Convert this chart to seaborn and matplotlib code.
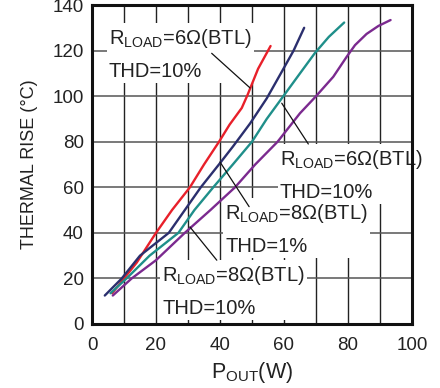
import matplotlib
matplotlib.use("Agg")
import matplotlib.pyplot as plt
import seaborn as sns
import pandas as pd

# Data
red_x = [6.3, 10, 14, 20, 25, 30.6, 35, 39.7, 43, 46.8, 48.6, 51.9, 55.8]
red_y = [13.5, 20, 27, 40, 50, 60, 70, 80, 87.5, 94.8, 100.5, 112, 122]

navy_x = [4.0, 9.3, 15, 24, 29, 34, 40, 44.1, 49.4, 54.6, 59.3, 63, 66.3]
navy_y = [12.5, 20, 30, 40, 50, 60, 70.6, 78, 88, 99, 110.7, 120, 130]

teal_x = [5.8, 10.8, 18, 27, 32, 37.9, 44, 50, 54.6, 59.8, 65, 69.7, 74, 78.8]
teal_y = [13.5, 20, 30, 40, 50, 60, 70, 80, 90, 100, 110, 119, 126, 132.3]

purple_x = [6.5, 12.4, 20, 29, 37, 44.7, 51, 58, 65, 69.7, 75.4, 79.6, 82.2, 85.8, 89.5, 93.3]
purple_y = [12.5, 20, 28, 40, 50, 60, 70, 80, 92.5, 99.5, 108.5, 117.3, 122.4, 127.3, 130.8, 133.4]

series_names = ["red", "navy", "teal", "purple"]
colors = ["#e8202a", "#2b2f6e", "#1f8f8a", "#7b2a8f"]

x_ticks = [0, 20, 40, 60, 80, 100]
y_ticks = [0, 20, 40, 60, 80, 100, 120, 140]

labels = [
    "R$_{\\mathregular{LOAD}}$=6Ω(BTL)\nTHD=10%",
    "R$_{\\mathregular{LOAD}}$=6Ω(BTL)\nTHD=10%",
    "R$_{\\mathregular{LOAD}}$=8Ω(BTL)\nTHD=1%",
    "R$_{\\mathregular{LOAD}}$=8Ω(BTL)\nTHD=10%",
]
label_pos = [(5.3, 118.5), (58.75, 65.6), (41.6, 41.7), (21.9, 14.5)]
leader_from = [(37.4, 118.8), (67.6, 79.0), (49.1, 51.5), (39.0, 28.0)]
leader_to = [(49.4, 103.6), (59.3, 96.9), (40.0, 71.1), (30.6, 42.6)]

frames = []
for name, xs, ys in zip(series_names,
                        [red_x, navy_x, teal_x, purple_x],
                        [red_y, navy_y, teal_y, purple_y]):
    frames.append(pd.DataFrame({"P": xs, "T": ys, "s": name}))
df = pd.concat(frames, ignore_index=True)

sns.set_theme(style="white")
plt.rcParams["font.family"] = ["Liberation Sans", "DejaVu Sans"]
plt.rcParams["mathtext.fontset"] = "custom"
plt.rcParams["mathtext.rm"] = "Liberation Sans"
plt.rcParams["mathtext.it"] = "Liberation Sans"

fig = plt.figure(figsize=(4.4, 3.88), dpi=100)
ax = fig.add_axes([92 / 440, 1 - 324 / 388, 320 / 440, 319 / 388])

sns.lineplot(data=df, x="P", y="T", hue="s", palette=dict(zip(series_names, colors)),
             sort=False, estimator=None, linewidth=1.7, legend=False, ax=ax, zorder=3)

ax.set_xlim(0, 100)
ax.set_ylim(0, 140)
ax.set_xticks(x_ticks, labels=[str(v) for v in x_ticks], minor=False)
ax.set_xticks(range(10, 100, 20), minor=True)
ax.set_yticks(y_ticks, labels=[str(v) for v in y_ticks])
ax.grid(True, which="both", axis="x", color="#222222", linewidth=1.0)
ax.grid(True, which="major", axis="y", color="#555555", linewidth=1.1)
ax.set_axisbelow(True)
ax.tick_params(axis="both", which="both", length=0, labelsize=13.5, colors="#222222")
ax.tick_params(axis="x", pad=9)
ax.tick_params(axis="y", pad=6)

for (tx, ty), lab in zip(label_pos, labels):
    ax.text(tx, ty, lab, fontsize=14.5, ha="left", va="center", color="#222222",
            linespacing=1.8, zorder=2.5,
            bbox=dict(facecolor="white", edgecolor="none", pad=1.5))
for (x0, y0), (x1, y1) in zip(leader_from, leader_to):
    ax.plot([x0, x1], [y0, y1], color="#111111", linewidth=0.9, zorder=5)

for sp in ax.spines.values():
    sp.set_visible(True)
    sp.set_color("#111111")
    sp.set_linewidth(2.2)

ax.set_xlabel("P$_{\\mathregular{OUT}}$(W)", fontsize=15.5, color="#222222", labelpad=5)
ax.set_ylabel("THERMAL RISE (°C)", fontsize=13, color="#222222", labelpad=10)

fig.savefig("out.png", dpi=100)
